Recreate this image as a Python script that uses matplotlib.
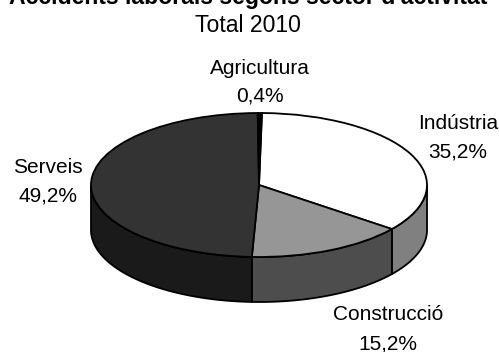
import numpy as np
import matplotlib
matplotlib.use("Agg")
import matplotlib.pyplot as plt

plt.rcParams['font.family'] = ['Liberation Sans', 'DejaVu Sans']

# data
sectors = ['Indústria', 'Construcció', 'Serveis', 'Agricultura']
shares = [35.2, 15.2, 49.2, 0.4]
value_labels = ['35,2%', '15,2%', '49,2%', '0,4%']
title = "Accidents laborals segons sector d'activitat"
subtitle = 'Total 2010'

# styles
top_colors = ['#ffffff', '#969696', '#333333', '#000000']
side_colors = ['#808080', '#4d4d4d', '#1a1a1a', '#000000']
W, H = 499, 352
cx, cy, rx, ry, depth = 259, 185, 168, 72, 45
# x, baseline of name, baseline of value (pixels from top)
label_pos = [(458, 129, 158), (388, 320, 349), (48, 173, 202), (260, 74, 102)]

fig = plt.figure(figsize=(W / 100, H / 100), dpi=100)
ax = fig.add_axes([0, 0, 1, 1])

wedges, _ = ax.pie(shares, colors=top_colors, startangle=89, counterclock=False,
                   wedgeprops=dict(edgecolor='black', linewidth=1.3, zorder=5))
ax.set_aspect('auto')
ax.set_xlim(-cx / rx, (W - cx) / rx)
ax.set_ylim((cy - H) / ry, cy / ry)

# side wall of the pie, only the front half shows
drop = depth / ry
for w, col in zip(wedges, side_colors):
    for k in (-360, 0):
        lo = max(w.theta1, 180 + k)
        hi = min(w.theta2, 360 + k)
        if hi <= lo:
            continue
        t = np.radians(np.linspace(lo, hi, 80))
        xs = np.cos(t)
        ys = np.sin(t)
        ax.fill(np.r_[xs, xs[::-1]], np.r_[ys, ys[::-1] - drop],
                facecolor=col, edgecolor='black', linewidth=1.3, zorder=2)


def px_text(x, y, s, **kw):
    fig.text(x / W, 1 - y / H, s, ha='center', va='baseline', color='black', **kw)


px_text(248, 4, title, fontsize=16.6, fontweight='bold')
px_text(248, 32, subtitle, fontsize=16.6)
for name, val, (x, y1, y2) in zip(sectors, value_labels, label_pos):
    px_text(x, y1, name, fontsize=15)
    px_text(x, y2, val, fontsize=15)

fig.savefig('out.png', dpi=100)
